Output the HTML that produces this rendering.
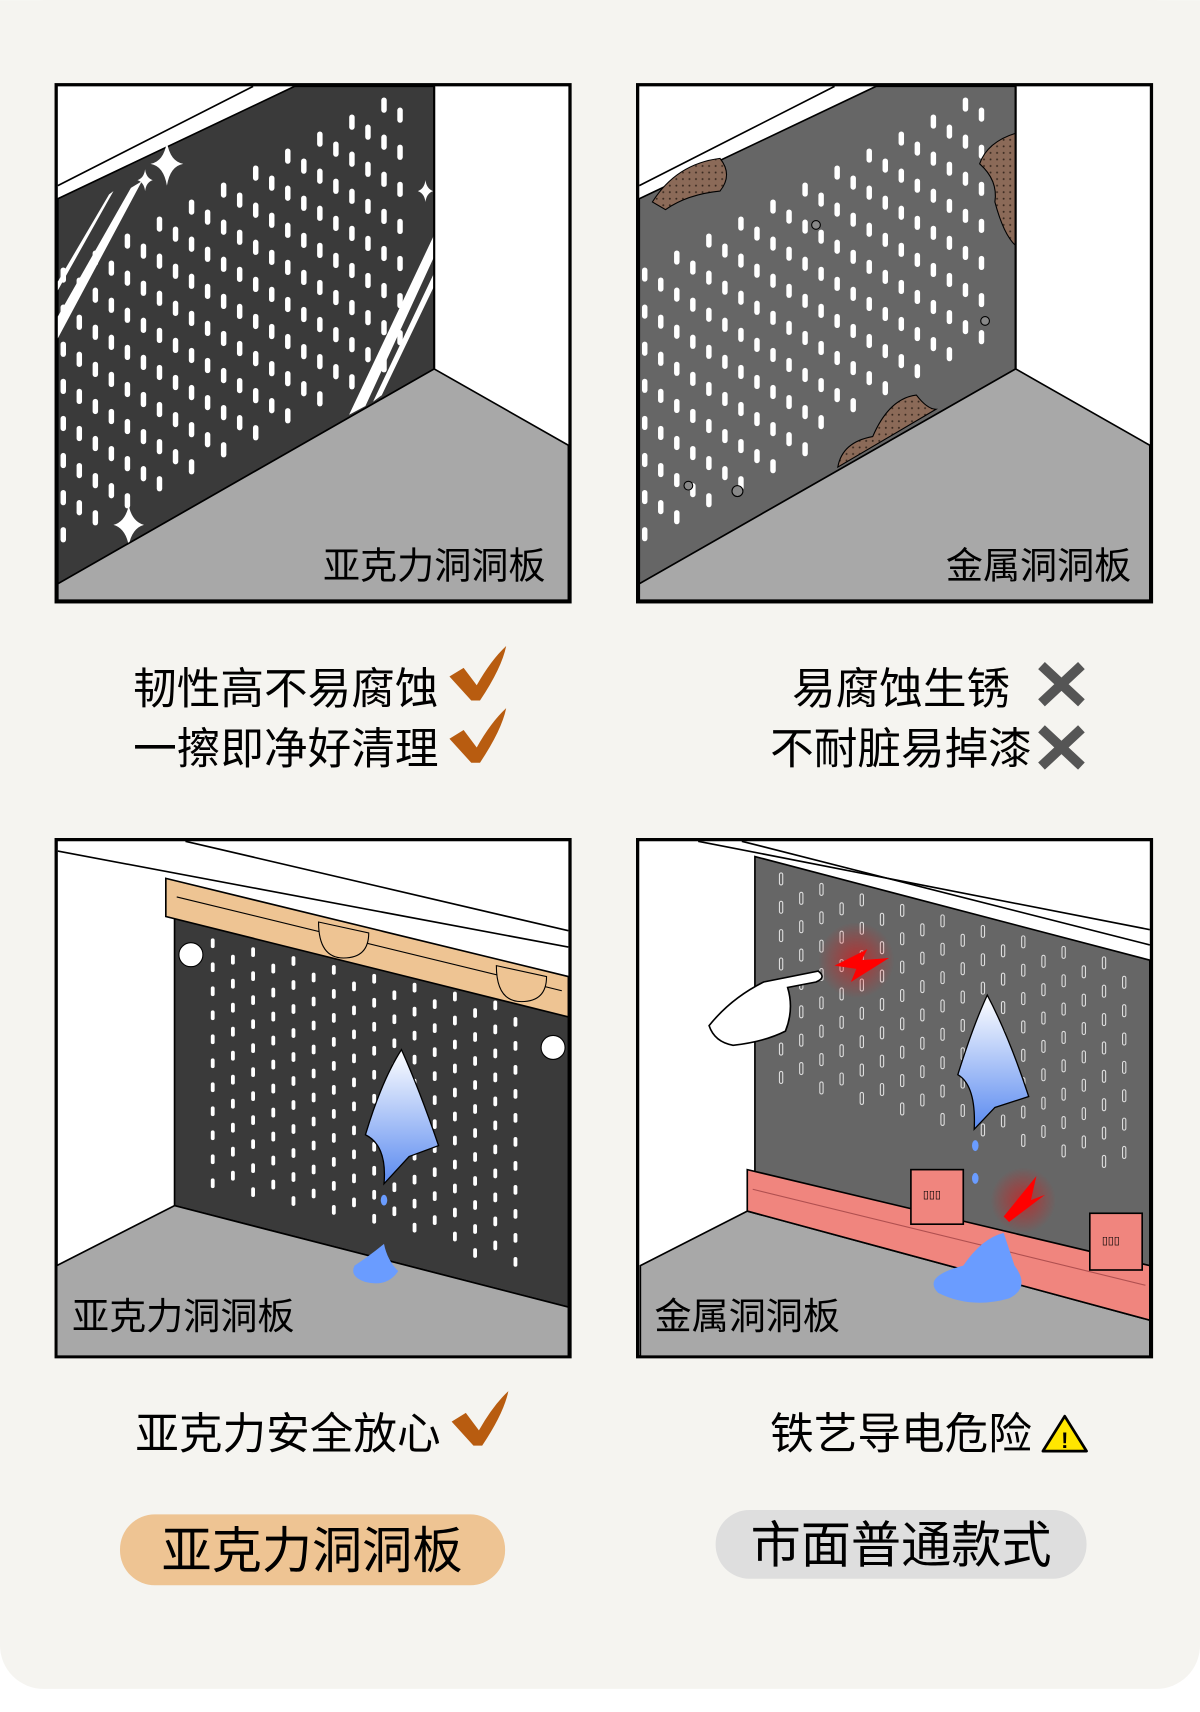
<!DOCTYPE html>
<html><head><meta charset="utf-8"><style>
html,body{margin:0;padding:0;background:#fff;}
svg{display:block;}
text{font-family:"Liberation Sans","Noto Sans CJK SC",sans-serif;}
</style></head><body>
<svg id="s" width="1200" height="1712" viewBox="0 0 1100 1569" xmlns="http://www.w3.org/2000/svg">
<defs>
<pattern id="rust" width="6" height="6" patternUnits="userSpaceOnUse"><rect width="6" height="6" fill="#8b6a58"/><circle cx="2" cy="2" r="0.9" fill="#3a2a20"/></pattern>
<linearGradient id="cloth" x1="0" y1="0" x2="0" y2="1"><stop offset="0" stop-color="#fff"/><stop offset="1" stop-color="#5a8af0"/></linearGradient>
<radialGradient id="glow"><stop offset="0" stop-color="#f00" stop-opacity="0.5"/><stop offset="1" stop-color="#f00" stop-opacity="0"/></radialGradient>
</defs>
<rect width="1100" height="1548" rx="40" fill="#f5f4f0"/>
<rect width="1100" height="100" fill="#f5f4f0"/>

<!-- Panel 1 -->
<rect x="51.5" y="77.5" width="471" height="474" fill="#fff" stroke="#000" stroke-width="3"/>
<polygon points="53,182 270,79 398,79 398,338 53,535" fill="#3a3a3a"/>
<line x1="53" y1="170" x2="232" y2="79" stroke="#000" stroke-width="1.5"/>
<g id="g1"></g>
<polygon points="53,182 270,79 398,79 398,338 53,535" fill="none" stroke="#000" stroke-width="1.5"/>
<polygon points="53,290 120,172 130,166 53,310" fill="#fff"/>
<polygon points="53,258 100,178 104,175 53,266" fill="#fff"/>
<polygon points="320,380 398,215 398,235 335,372" fill="#fff"/>
<polygon points="342,368 398,250 398,262 350,362" fill="#fff"/>
<path d="M153,130 Q156,148 168,150 Q156,152 153,170 Q150,152 138,150 Q150,148 153,130Z" fill="#fff"/>
<path d="M133,155 Q134,163 140,165 Q134,167 133,175 Q132,167 126,165 Q132,163 133,155Z" fill="#fff"/>
<path d="M390,165 Q391,173 397,175 Q391,177 390,185 Q389,177 383,175 Q389,173 390,165Z" fill="#fff"/>
<path d="M118,463 Q121,478 132,481 Q121,484 118,500 Q115,484 104,481 Q115,478 118,463Z" fill="#fff"/>
<polygon points="53,535 398,338 521,408 521,550 53,550" fill="#a8a8a8" stroke="#000" stroke-width="1.5"/>
<line x1="398" y1="338" x2="398" y2="79" stroke="#000" stroke-width="2"/>
<text x="500" y="530" font-size="34" text-anchor="end">亚克力洞洞板</text>

<!-- Panel 2 -->
<rect x="584.5" y="77.5" width="471" height="474" fill="#fff" stroke="#000" stroke-width="3"/>
<polygon points="586,182 803,79 931,79 931,338 586,535" fill="#666" stroke="#000" stroke-width="1.5"/>
<line x1="586" y1="170" x2="765" y2="79" stroke="#000" stroke-width="1.5"/>
<g id="g2"></g>
<path d="M598,185 Q620,150 660,145 Q672,160 660,175 Q630,178 610,192Z" fill="url(#rust)" stroke="#000"/>
<path d="M931,122 Q905,130 898,150 Q915,165 912,185 Q920,215 931,225Z" fill="url(#rust)" stroke="#000"/>
<path d="M768,428 Q772,405 800,400 Q815,365 840,362 Q850,375 858,375 L768,428Z" fill="url(#rust)" stroke="#000"/>
<circle cx="748" cy="206" r="4" fill="#888" stroke="#000"/><circle cx="903" cy="294" r="4" fill="#888" stroke="#000"/>
<circle cx="631" cy="445" r="4" fill="#888" stroke="#000"/><circle cx="676" cy="450" r="5" fill="#888" stroke="#000"/>
<polygon points="586,535 931,338 1054,408 1054,550 586,550" fill="#a8a8a8" stroke="#000" stroke-width="1.5"/>
<line x1="931" y1="338" x2="931" y2="79" stroke="#000" stroke-width="2"/>
<text x="1037" y="530" font-size="34" text-anchor="end">金属洞洞板</text>

<g font-size="40">
<text x="122" y="645">韧性高不易腐蚀</text>
<text x="122" y="700">一擦即净好清理</text>
<text x="726" y="645">易腐蚀生锈</text>
<text x="706" y="700">不耐脏易掉漆</text>
<text x="124" y="1328">亚克力安全放心</text>
<text x="706" y="1328">铁艺导电危险</text>
</g>
<g fill="#b85c10">
<path d="M412,620 L425,612 L437,628 Q450,605 464,592 Q460,612 440,642 L432,642Z"/>
<path d="M412,677 L425,669 L437,685 Q450,662 464,649 Q460,669 440,699 L432,699Z"/>
<path d="M414,1303 L427,1295 L439,1311 Q452,1288 466,1275 Q462,1295 442,1325 L434,1325Z"/>
</g>
<g stroke="#555" stroke-width="9" stroke-linecap="square">
<path d="M958,613 L988,641 M988,613 L958,641"/>
<path d="M958,671 L988,699 M988,671 L958,699"/>
</g>
<polygon points="976,1298 996,1330 956,1330" fill="#ffe600" stroke="#000" stroke-width="2.5" stroke-linejoin="round"/>
<text x="976" y="1327" font-size="20" text-anchor="middle" font-weight="bold">!</text>

<!-- Panel 3 -->
<rect x="51.5" y="769.5" width="471" height="474" fill="#fff" stroke="#000" stroke-width="3"/>
<line x1="53" y1="780" x2="521" y2="868" stroke="#000" stroke-width="1.5"/>
<line x1="170" y1="771" x2="521" y2="853" stroke="#000" stroke-width="1.5"/>
<polygon points="160,840 521,918 521,1198 160,1105" fill="#3a3a3a" stroke="#000" stroke-width="1.5"/>
<g id="g3"></g>
<polygon points="152,805 521,895 521,932 152,840" fill="#eec493" stroke="#000" stroke-width="1.5"/>
<line x1="162" y1="822" x2="515" y2="908" stroke="#000" stroke-width="1"/>
<path d="M292,845 Q292,878 315,878 Q338,878 338,855Z" fill="#eec493" stroke="#000"/>
<path d="M455,885 Q455,918 478,918 Q501,918 501,895Z" fill="#eec493" stroke="#000"/>
<circle cx="175" cy="875" r="11" fill="#fff" stroke="#000"/>
<circle cx="507" cy="960" r="11" fill="#fff" stroke="#000"/>
<polygon points="52,1160 160,1105 521,1198 521,1243 52,1243" fill="#a8a8a8" stroke="#000" stroke-width="1.5"/>
<path d="M368,962 Q350,990 335,1040 Q355,1050 352,1085 L375,1060 L402,1050 Q385,1000 368,962Z" fill="url(#cloth)" stroke="#000" stroke-width="1.2"/>
<ellipse cx="352" cy="1100" rx="3" ry="5" fill="#6a9cff"/>
<path d="M325,1160 Q340,1150 352,1140 Q355,1155 365,1165 Q355,1180 335,1175 Q320,1170 325,1160Z" fill="#6a9cff"/>
<text x="66" y="1218" font-size="34">亚克力洞洞板</text>

<!-- Panel 4 -->
<rect x="584.5" y="769.5" width="471" height="474" fill="#fff" stroke="#000" stroke-width="3"/>
<line x1="640" y1="771" x2="1054" y2="852" stroke="#000" stroke-width="1.5"/>
<line x1="680" y1="771" x2="1054" y2="866" stroke="#000" stroke-width="1.5"/>
<polygon points="692,785 1054,880 1054,1165 692,1075" fill="#666" stroke="#000" stroke-width="1.5"/>
<g id="g4"></g>
<polygon points="587,1160 685,1110 1054,1210 1054,1243 587,1243" fill="#a8a8a8" stroke="#000" stroke-width="1.5"/>
<polygon points="685,1072 1054,1160 1054,1210 685,1110" fill="#f0857e" stroke="#000" stroke-width="1.5"/>
<line x1="690" y1="1090" x2="1050" y2="1178" stroke="#b05050" stroke-width="1"/>
<rect x="835" y="1072" width="48" height="50" fill="#f0857e" stroke="#000" stroke-width="1.5"/>
<rect x="999" y="1112" width="48" height="52" fill="#f0857e" stroke="#000" stroke-width="1.5"/>
<text x="846" y="1098" font-size="10">▯▯▯</text><text x="1010" y="1140" font-size="10">▯▯▯</text>
<path d="M883,1160 Q900,1135 920,1130 L930,1160 Q945,1180 925,1190 Q890,1200 860,1185 Q845,1170 883,1160Z" fill="#6a9cff"/>
<circle cx="785" cy="880" r="35" fill="url(#glow)"/>
<circle cx="938" cy="1100" r="30" fill="url(#glow)"/>
<path d="M765,885 L795,870 L790,880 L815,878 L780,900 L785,888Z" fill="#f00"/>
<path d="M920,1115 L950,1078 L945,1100 L958,1095 L925,1120Z" fill="#f00"/>
<path d="M905,912 Q892,940 878,985 Q895,995 893,1035 L912,1015 L943,1005 Q925,950 905,912Z" fill="url(#cloth)" stroke="#000" stroke-width="1.2"/>
<ellipse cx="894" cy="1050" rx="3" ry="5" fill="#6a9cff"/><ellipse cx="894" cy="1080" rx="3" ry="5" fill="#6a9cff"/>
<path d="M650,940 Q670,915 700,900 L750,890 Q758,896 748,900 L722,905 Q728,925 720,945 Q700,955 672,958 Q655,955 650,940Z" fill="#fff" stroke="#000" stroke-width="1.5"/>
<text x="600" y="1218" font-size="34">金属洞洞板</text>

<rect x="110" y="1388" width="353" height="65" rx="32" fill="#eec493"/>
<text x="286" y="1437" font-size="46" text-anchor="middle">亚克力洞洞板</text>
<rect x="656" y="1384" width="340" height="63" rx="31" fill="#dedede"/>
<text x="826" y="1432" font-size="46" text-anchor="middle">市面普通款式</text>
</svg>
<script>
var NS="http://www.w3.org/2000/svg";
function holes(id,x0,x1,dx,dy,slope,yref,top,bot,w,h,fill,stroke){
 var g=document.getElementById(id);
 for(var i=0;x0+i*dx<=x1;i++){
  var x=x0+i*dx, base=yref+slope*(x-x0)+(i%2)*dy/2;
  for(var k=-40;k<40;k++){
   var y=base+k*dy;
   if(y<top(x)||y>bot(x))continue;
   var r=document.createElementNS(NS,"rect");
   r.setAttribute("x",x-w/2);r.setAttribute("y",y);r.setAttribute("width",w);r.setAttribute("height",h);
   r.setAttribute("rx",w/2);r.setAttribute("fill",fill);
   if(stroke){r.setAttribute("stroke",stroke);r.setAttribute("stroke-width","1");}
   g.appendChild(r);
  }
 }
}
holes("g1",58,372,14.7,34,-0.53,245,function(x){return Math.max(86,245-0.57*(x-57))},function(x){return 490-0.55*(x-57)},5,14,"#fff");
holes("g2",591,906,14.7,34,-0.53,245,function(x){return Math.max(86,240-0.57*(x-590))},function(x){return 490-0.57*(x-590)},5,13,"#fff");
holes("g3",195,490,18.5,22,0.22,860,function(x){return 856+0.22*(x-192)},function(x){return 1080+0.27*(x-192)},3.5,9,"#fff");
holes("g4",716,1035,18.5,26,0.26,800,function(x){return 795+0.26*(x-715)},function(x){return (x<820?990:1000)+0.2*(x-715)},3,11,"none","#ddd");
</script>
</body></html>
